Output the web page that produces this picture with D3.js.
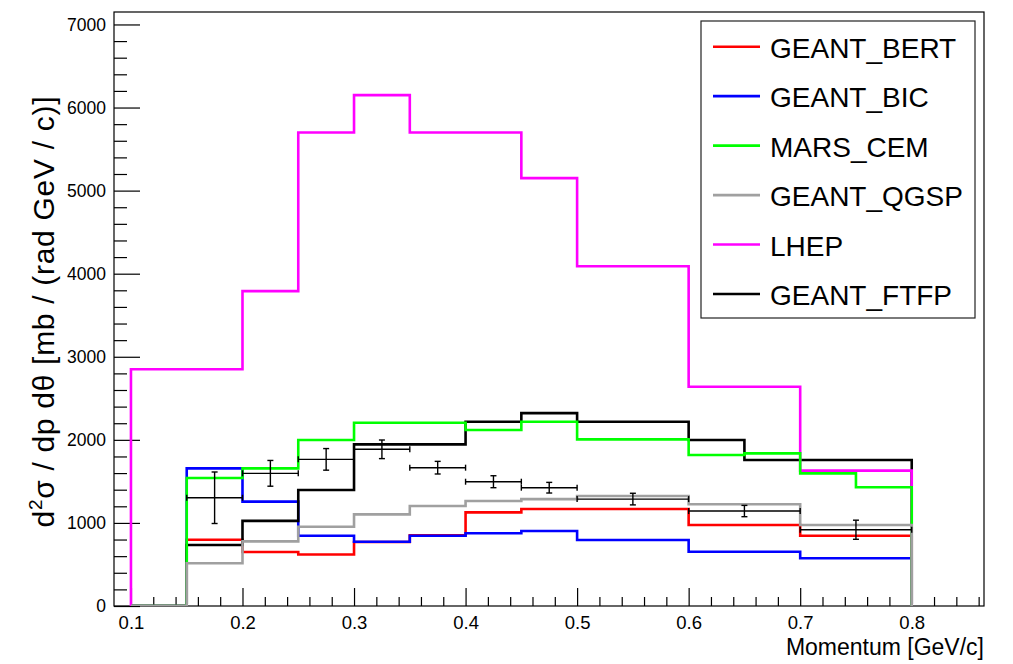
<!DOCTYPE html>
<html>
<head>
<meta charset="utf-8">
<script src="https://cdn.jsdelivr.net/npm/d3@7"></script>
<style>
  body { margin: 0; background: #fff; }
  svg { display: block; font-family: "Liberation Sans", Arial, Helvetica, sans-serif; }
</style>
</head>
<body>
<svg id="chart" width="1013" height="664"></svg>
<script>
// bin edges of every histogram (GeV/c)
const binEdges = [0.1, 0.15, 0.2, 0.25, 0.3, 0.35, 0.4, 0.45, 0.5, 0.55, 0.6, 0.65, 0.7, 0.75, 0.8];

// bin contents, one per bin
const geantBert = [0, 797, 650, 620, 770, 850, 1127, 1167, 1167, 1167, 975, 975, 846, 846];
const geantBic = [0, 1657, 1256, 846, 774, 846, 875, 903, 794, 794, 653, 653, 574, 574];
const marsCem = [0, 1540, 1657, 1998, 2206, 2206, 2118, 2218, 2006, 2006, 1817, 1837, 1596, 1430];
const geantQgsp = [0, 514, 778, 954, 1103, 1203, 1263, 1287, 1324, 1324, 1224, 1224, 975, 975];
const lhep = [2850, 2850, 3790, 5700, 6150, 5700, 5700, 5150, 4090, 4090, 2640, 2640, 1630, 1630];
const geantFtfp = [0, 734, 1025, 1396, 1946, 1946, 2218, 2322, 2218, 2218, 1998, 1757, 1757, 1757];

// measured points with errors
const dataX = [0.175, 0.225, 0.275, 0.325, 0.375, 0.425, 0.475, 0.55, 0.65, 0.75];
const dataXErr = [0.025, 0.025, 0.025, 0.025, 0.025, 0.025, 0.025, 0.05, 0.05, 0.05];
const dataY = [1303, 1597, 1765, 1886, 1665, 1496, 1424, 1287, 1143, 918];
const dataYErr = [310, 155, 130, 112, 76, 72, 64, 70, 68, 115];

const xTicks = [0.1, 0.2, 0.3, 0.4, 0.5, 0.6, 0.7, 0.8];
const yTicks = [0, 1000, 2000, 3000, 4000, 5000, 6000, 7000];

// legend order
const series = [
  { name: "GEANT_BERT", values: geantBert, color: "#ff0000" },
  { name: "GEANT_BIC", values: geantBic, color: "#0000ff" },
  { name: "MARS_CEM", values: marsCem, color: "#00ff00" },
  { name: "GEANT_QGSP", values: geantQgsp, color: "#a0a0a0" },
  { name: "LHEP", values: lhep, color: "#ff00ff" },
  { name: "GEANT_FTFP", values: geantFtfp, color: "#000000" },
];
// order the histograms were painted in (later ones cover earlier ones)
const drawOrder = ["GEANT_BERT", "GEANT_BIC", "GEANT_FTFP", "LHEP", "MARS_CEM", "GEANT_QGSP"];

const frame = { left: 114, top: 12, right: 984, bottom: 606 };
const svg = d3.select("#chart");

const x = d3.scaleLinear().domain([0.0848, 0.8648]).range([frame.left, frame.right]);
const y = d3.scaleLinear().domain([0, 7150]).range([frame.bottom, frame.top]);

const xMinor = d3.range(0.1, 0.861, 0.02).filter((v) => Math.abs(v * 10 - Math.round(v * 10)) > 1e-6);
const yMinor = d3.range(0, 7101, 200).filter((v) => v % 1000 !== 0);

// frame
svg.append("rect")
  .attr("x", frame.left).attr("y", frame.top)
  .attr("width", frame.right - frame.left).attr("height", frame.bottom - frame.top)
  .attr("fill", "none").attr("stroke", "#000").attr("stroke-width", 1.2);

// axes
function styleAxis(size) {
  return (g) => {
    g.select(".domain").remove();
    g.selectAll(".tick line").attr("stroke", "#000").attr("stroke-width", 1.2);
    g.selectAll(".tick text").attr("fill", "#000").attr("font-size", size);
  };
}

svg.append("g")
  .attr("transform", `translate(0,${frame.bottom})`)
  .call(d3.axisBottom(x).tickValues(xTicks).tickFormat(d3.format(".1f")).tickSize(-18).tickPadding(10))
  .call(styleAxis(18.5));

svg.append("g")
  .attr("transform", `translate(0,${frame.bottom})`)
  .call(d3.axisBottom(x).tickValues(xMinor).tickFormat("").tickSize(-9))
  .call(styleAxis(18.5));

svg.append("g")
  .attr("transform", `translate(${frame.left},0)`)
  .call(d3.axisLeft(y).tickValues(yTicks).tickFormat(d3.format("d")).tickSize(-26).tickPadding(8))
  .call(styleAxis(17.5));

svg.append("g")
  .attr("transform", `translate(${frame.left},0)`)
  .call(d3.axisLeft(y).tickValues(yMinor).tickFormat("").tickSize(-13))
  .call(styleAxis(17.5));

// histograms
svg.append("clipPath").attr("id", "clip").append("rect")
  .attr("x", frame.left).attr("y", frame.top)
  .attr("width", frame.right - frame.left).attr("height", frame.bottom - frame.top);

const histLine = d3.line()
  .x((d) => x(d[0]))
  .y((d) => y(d[1]))
  .curve(d3.curveStepAfter);

function histPoints(values) {
  const n = values.length;
  const pts = [[binEdges[0], 0]];
  values.forEach((v, i) => pts.push([binEdges[i], v]));
  pts.push([binEdges[n], values[n - 1]]);
  pts.push([binEdges[n], 0]);
  return pts;
}

const plot = svg.append("g").attr("clip-path", "url(#clip)");

drawOrder.forEach((name) => {
  const s = series.find((d) => d.name === name);
  plot.append("path")
    .attr("d", histLine(histPoints(s.values)))
    .attr("fill", "none")
    .attr("stroke", s.color)
    .attr("stroke-width", 2.6)
    .attr("stroke-linejoin", "miter");
});

// data points with error bars
const points = dataX.map((v, i) => ({ x: v, ex: dataXErr[i], y: dataY[i], ey: dataYErr[i] }));
const pg = plot.append("g").attr("stroke", "#000").attr("stroke-width", 1.4);
const cap = 3;

points.forEach((d) => {
  const cx = x(d.x), cy = y(d.y);
  const x0 = x(d.x - d.ex), x1 = x(d.x + d.ex);
  const y0 = y(d.y - d.ey), y1 = y(d.y + d.ey);
  pg.append("line").attr("x1", x0).attr("x2", x1).attr("y1", cy).attr("y2", cy);
  pg.append("line").attr("x1", cx).attr("x2", cx).attr("y1", y0).attr("y2", y1);
  pg.append("line").attr("x1", cx - cap).attr("x2", cx + cap).attr("y1", y0).attr("y2", y0);
  pg.append("line").attr("x1", cx - cap).attr("x2", cx + cap).attr("y1", y1).attr("y2", y1);
  pg.append("line").attr("x1", x0).attr("x2", x0).attr("y1", cy - cap).attr("y2", cy + cap);
  pg.append("line").attr("x1", x1).attr("x2", x1).attr("y1", cy - cap).attr("y2", cy + cap);
});

// axis titles
svg.append("text")
  .attr("x", frame.right).attr("y", 655)
  .attr("text-anchor", "end")
  .attr("font-size", 23)
  .text("Momentum [GeV/c]");

const yTitle = svg.append("text")
  .attr("transform", "translate(54,312) rotate(-90)")
  .attr("text-anchor", "middle")
  .attr("font-size", 30)
  .attr("textLength", 431)
  .attr("lengthAdjust", "spacing");
yTitle.append("tspan").text("d");
yTitle.append("tspan").attr("font-size", 19).attr("dy", -12).text("2");
yTitle.append("tspan").attr("dy", 12).text("\u03c3 / dp d\u03b8 [mb / (rad GeV / c)]");

// legend
const legend = svg.append("g");
legend.append("rect")
  .attr("x", 701).attr("y", 21).attr("width", 274).attr("height", 297)
  .attr("fill", "#fff").attr("stroke", "#222").attr("stroke-width", 1.2);

const rowY = d3.scalePoint().domain(series.map((d) => d.name)).range([46.7, 294]);

const rows = legend.selectAll(".row").data(series).enter().append("g")
  .attr("class", "row")
  .attr("transform", (d) => `translate(0,${rowY(d.name)})`);

rows.append("line")
  .attr("x1", 713).attr("x2", 760).attr("y1", 0).attr("y2", 0)
  .attr("stroke", (d) => d.color).attr("stroke-width", 2.6);

rows.append("text")
  .attr("x", 770).attr("y", 11)
  .attr("font-size", 28)
  .attr("fill", "#000")
  .text((d) => d.name);
</script>
</body>
</html>
